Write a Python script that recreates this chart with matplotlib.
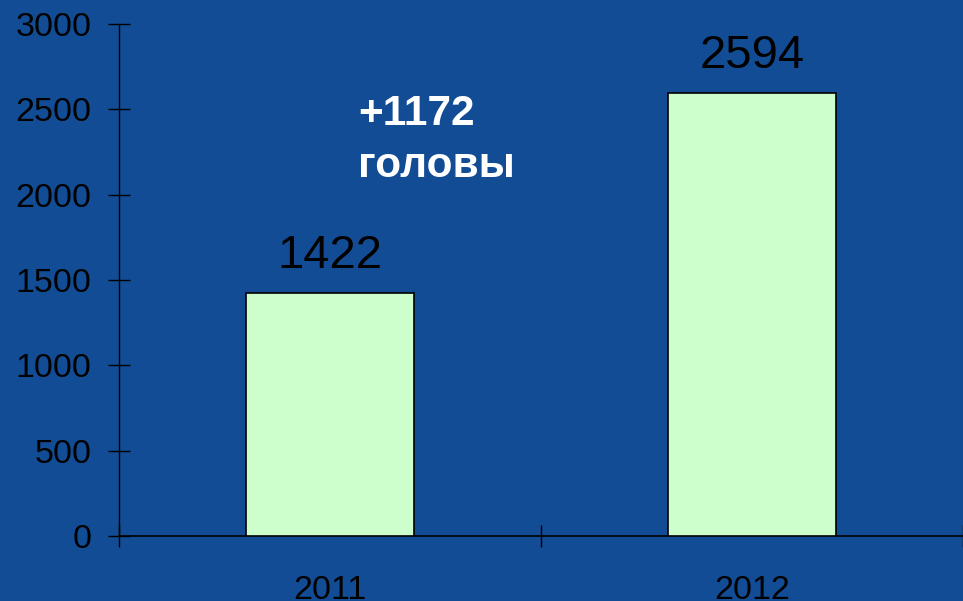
import matplotlib
matplotlib.use('Agg')
import matplotlib.pyplot as plt
import numpy as np

# Chart data
years = ['2011', '2012']
heads = [1422, 2594]
y_ticks = [0, 500, 1000, 1500, 2000, 2500, 3000]

bg_color = '#124c94'
bar_color = '#ccffcc'

plt.rcParams['font.family'] = ['Liberation Sans', 'DejaVu Sans']

fig = plt.figure(figsize=(9.63, 6.01), dpi=100)
fig.patch.set_facecolor(bg_color)
ax = fig.add_axes([119/963, 65/601, 844/963, 512/601])
ax.set_facecolor('none')

x_pos = np.arange(len(years)) + 0.5
ax.bar(x_pos, heads, width=0.4, color=bar_color, edgecolor='black', linewidth=1.2, zorder=3)

# value labels above bars
for (x, v) in zip(x_pos, heads):
  ax.annotate(str(v), xy=(x, v), xytext=(0, 18), textcoords='offset points',
              ha='center', va='baseline', fontsize=34, color='black')

# difference note
diff = heads[1] - heads[0]
ax.text(0.566, 2408, '+%d' % diff, ha='left', va='baseline',
        fontsize=30.5, fontweight='bold', color='white')
ax.text(0.566, 2104, 'головы', ha='left', va='baseline',
        fontsize=30.5, fontweight='bold', color='white')

ax.set_xlim(0, len(years))
ax.set_ylim(0, 3000)
ax.set_yticks(y_ticks)
ax.set_yticklabels([str(t) for t in y_ticks])

# category boundary ticks, labels at centers
ax.set_xticks(np.arange(len(years) + 1))
ax.set_xticklabels([])
ax.set_xticks(x_pos, minor=True)
ax.set_xticklabels(years, minor=True)
ax.tick_params(axis='x', which='minor', length=0, pad=28, labelsize=24.5, labelcolor='black')
ax.tick_params(axis='x', which='major', direction='inout', length=16, width=1, color='black')
ax.tick_params(axis='y', direction='inout', length=16, width=1, color='black',
               pad=12, labelsize=24.5, labelcolor='black')

for side in ['top', 'right']:
  ax.spines[side].set_visible(False)
ax.spines['left'].set_color('black')
ax.spines['bottom'].set_color('black')
ax.spines['left'].set_linewidth(1)
ax.spines['bottom'].set_linewidth(1.2)

fig.savefig('out.png', dpi=100, facecolor=bg_color)
